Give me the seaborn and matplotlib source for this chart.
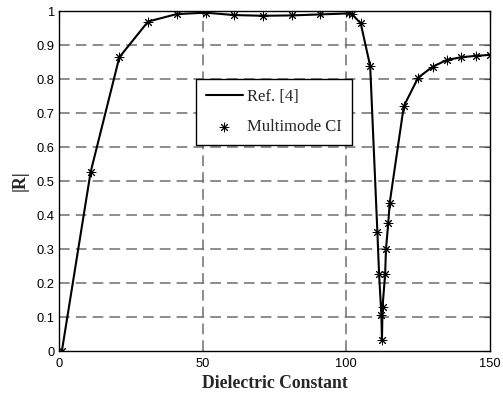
import matplotlib
matplotlib.use("Agg")
import matplotlib.pyplot as plt
import seaborn as sns
import pandas as pd

# Data
eps = [1, 11, 21, 31, 41, 51, 61, 71, 81, 91, 101, 102, 105, 108.3,
       110.8, 111.4, 112.2, 112.4, 112.6, 113.5, 113.8, 114.6, 115.1,
       120, 125, 130, 135, 140, 145, 150]
refl = [0.0, 0.526, 0.864, 0.969, 0.991, 0.995, 0.988, 0.986, 0.987, 0.99,
        0.993, 0.99, 0.964, 0.838,
        0.351, 0.2255, 0.106, 0.032, 0.13, 0.2255, 0.30, 0.377, 0.436,
        0.72, 0.804, 0.836, 0.856, 0.864, 0.868, 0.871]

x_ticks = [0, 50, 100, 150]
y_ticks = [0, 0.1, 0.2, 0.3, 0.4, 0.5, 0.6, 0.7, 0.8, 0.9, 1]
y_tick_labels = ["0", "0.1", "0.2", "0.3", "0.4", "0.5", "0.6", "0.7", "0.8", "0.9", "1"]

df = pd.DataFrame({"eps": eps, "R": refl})

sns.set_theme(style="white")
plt.rcParams['font.family'] = ['Liberation Sans', 'DejaVu Sans']

fig = plt.figure(figsize=(5.03, 3.94), dpi=100)
ax = fig.add_axes([59/503, 43/394, 431/503, 340/394])

# grid lines (MATLAB style dashed)
for yv in y_ticks[1:-1]:
    ax.axhline(yv, color="#6e6e6e", lw=1.1, ls=(0, (7, 4)), zorder=1)
for xv in x_ticks[1:-1]:
    ax.axvline(xv, color="#6e6e6e", lw=1.1, ls=(0, (7, 4)), zorder=1)

sns.lineplot(data=df, x="eps", y="R", sort=False, estimator=None,
             color="black", lw=1.5, ax=ax, label="Ref. [4]", zorder=3)
sns.scatterplot(data=df, x="eps", y="R", marker=(8, 2, 0), s=40,
                color="black", linewidth=0.7, ax=ax, label="Multimode CI", zorder=4)

ax.set_xlim(0, 150)
ax.set_ylim(0, 1)
ax.set_xticks(x_ticks)
ax.set_xticklabels([str(v) for v in x_ticks])
ax.set_yticks(y_ticks)
ax.set_yticklabels(y_tick_labels)
ax.tick_params(direction="in", length=4, width=0.8, top=True, right=True,
               labelsize=9.3, colors="black", pad=3)
ax.tick_params(axis="x", pad=5)
for sp in ax.spines.values():
    sp.set_visible(True)
    sp.set_color("black")
    sp.set_linewidth(1.0)

ax.set_xlabel("Dielectric Constant", family="Liberation Serif",
              fontweight="bold", fontsize=12.7, labelpad=4)
ax.set_ylabel("|R|", family="Liberation Serif", fontweight="bold",
              fontsize=12.7, labelpad=6)

leg = ax.legend(loc="upper left", bbox_to_anchor=((196-59)/431, (351-79)/340),
                frameon=True, fancybox=False, framealpha=1, edgecolor="black",
                prop={"family": "Liberation Serif", "size": 12},
                handlelength=2.2, borderpad=0.6, labelspacing=0.85,
                handletextpad=0.25, borderaxespad=0)
leg.get_frame().set_linewidth(1.0)
leg.set_zorder(10)

fig.savefig("out.png", dpi=100)
